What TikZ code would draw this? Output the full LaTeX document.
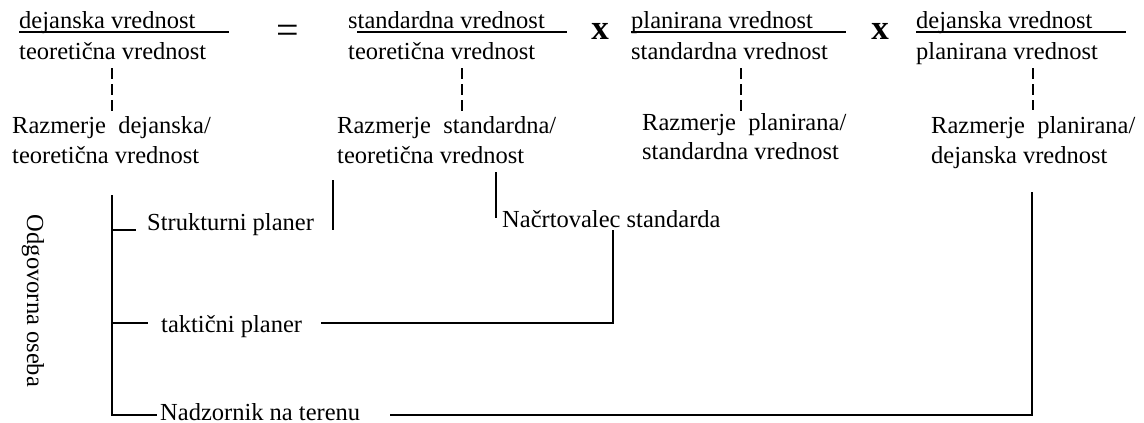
\documentclass[tikz,border=0pt]{standalone}
\usepackage{fontspec}
\setmainfont{Liberation Serif}
\begin{document}
\begin{tikzpicture}[x=1pt,y=-1pt,
  txt/.style={inner sep=0pt, anchor=base west, font=\fontsize{24.5}{30}\selectfont},
  opsign/.style={inner sep=0pt, anchor=base},
  rule/.style={line width=1.3pt},
  conn/.style={line width=1.9pt},
  thin/.style={line width=1.2pt},
  dashline/.style={line width=1.3pt, dash pattern=on 11pt off 5pt},
]
\useasboundingbox (0,0) rectangle (1144,423);

% ---- the product of ratios ----
\node[txt] (n1) at (19,28)  {dejanska vrednost};
\node[txt] (d1) at (19,59)  {teoretična vrednost};
\node[txt] (n2) at (348,28) {standardna vrednost};
\node[txt] (d2) at (348,59) {teoretična vrednost};
\node[txt] (n3) at (631,28) {planirana vrednost};
\node[txt] (d3) at (631,59) {standardna vrednost};
\node[txt] (n4) at (916,28) {dejanska vrednost};
\node[txt] (d4) at (916,59) {planirana vrednost};

\node[opsign, font=\fontsize{40}{40}\selectfont] (eq) at (288,43) {=};
\node[opsign, font=\fontsize{35}{35}\selectfont\bfseries] (x1) at (600,39) {x};
\node[opsign, font=\fontsize{35}{35}\selectfont\bfseries] (x2) at (880,39) {x};

% fraction bars
\draw[rule] ([shift={(0,4)}]n1.base west) -- +(210,0);
\draw[rule] ([shift={(9,4)}]n2.base west) -- +(210,0);
\draw[rule] ([shift={(0,4)}]n3.base west) -- +(215,0);
\draw[rule] ([shift={(0,4)}]n4.base west) -- +(210,0);

% ---- ratio labels ----
\node[txt] (r1a) at (12,133)  {Razmerje\ \ dejanska/};
\node[txt] (r1b) at (12,163)  {teoretična vrednost};
\node[txt] (r2a) at (337,133) {Razmerje\ \ standardna/};
\node[txt] (r2b) at (337,163) {teoretična vrednost};
\node[txt] (r3a) at (642,130) {Razmerje\ \ planirana/};
\node[txt] (r3b) at (642,159) {standardna vrednost};
\node[txt] (r4a) at (931,133) {Razmerje\ \ planirana/};
\node[txt] (r4b) at (931,163) {dejanska vrednost};

% dashed links fraction -> ratio
\coordinate (q1) at (112,68);  \coordinate (p1) at (112,112);
\coordinate (q2) at (462,68);  \coordinate (p2) at (462,112);
\coordinate (q3) at (741,68);  \coordinate (p3) at (741,112);
\coordinate (q4) at (1033,68); \coordinate (p4) at (1033,110);
\draw[dashline] (q1) -- (p1);
\draw[dashline] (q2) -- (p2);
\draw[dashline] (q3) -- (p3);
\draw[dashline] (q4) -- (p4);

% ---- responsible persons ----
\node[txt] (sp) at (147,230) {Strukturni planer};
\node[txt] (ns) at (502,227) {Načrtovalec standarda};
\node[txt] (tp) at (161,332) {taktični planer};
\node[txt] (nt) at (160,420) {Nadzornik na terenu};
\node[inner sep=0pt, rotate=-90, font=\fontsize{24.5}{30}\selectfont] (oo) at (33,301) {Odgovorna oseba};

% trunk with its branches
\coordinate (trTop) at (112,195);
\coordinate (trSp)  at (112,230);
\coordinate (trTp)  at (112,323);
\coordinate (trNt)  at (112,415);
\coordinate (spL) at (136,230);
\coordinate (tpL) at (148,323);
\coordinate (ntL) at (157,415);
\draw[conn] (trTop) -- (trNt) -- (ntL);
\draw[conn] (trSp) -- (spL);
\draw[conn] (trTp) -- (tpL);

% links from ratios to persons
\coordinate (r2L) at (333,180);  \coordinate (spR) at (333,230);
\coordinate (r2M) at (496,172);  \coordinate (nsL) at (496,218);
\draw[thin] (r2L) -- (spR);
\draw[thin] (r2M) -- (nsL);

\coordinate (nsB) at (613,230);
\coordinate (tpR) at (321,323);
\draw[conn] (nsB) |- (tpR);

\coordinate (r4B) at (1032,192);
\coordinate (ntR) at (390,415);
\draw[conn] (r4B) |- (ntR);
\end{tikzpicture}
\end{document}
